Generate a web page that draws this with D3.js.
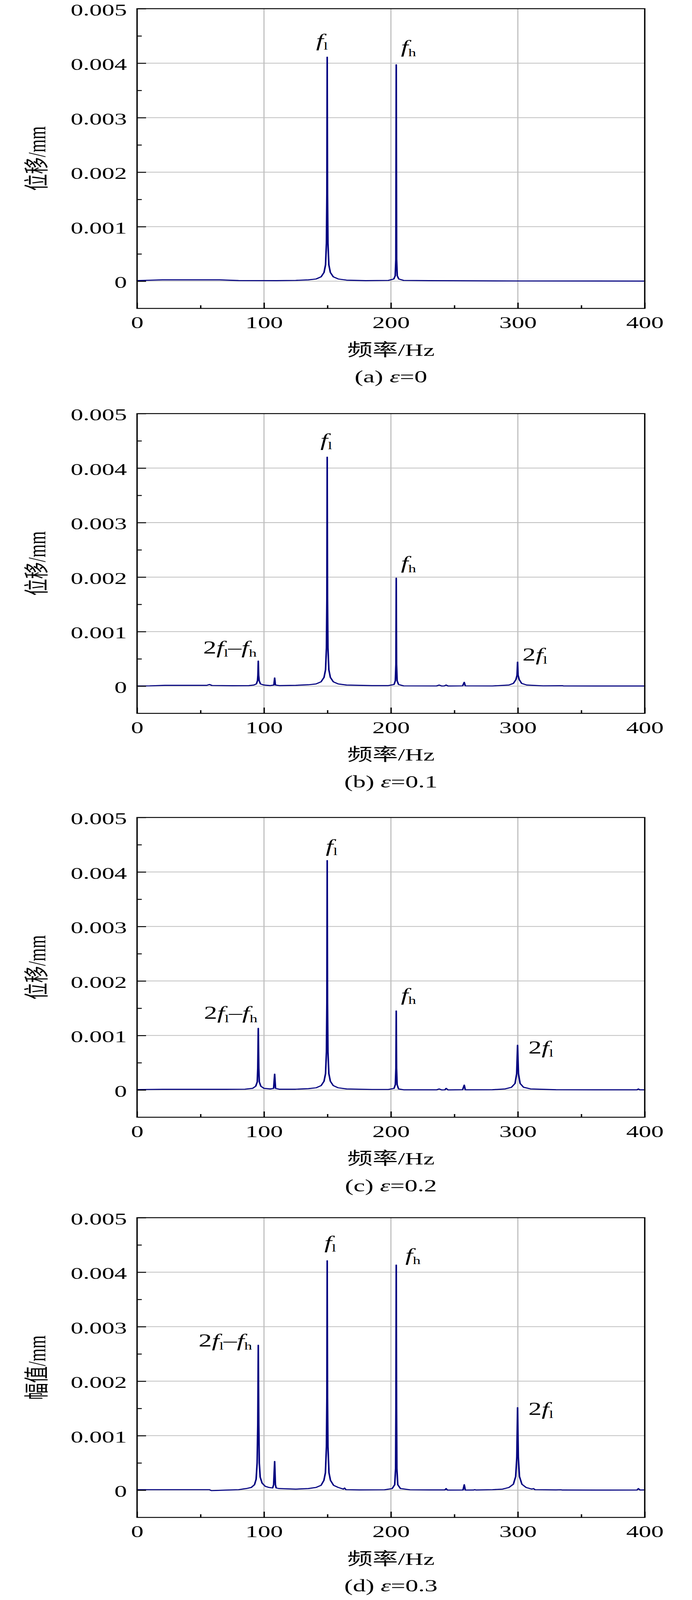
<!DOCTYPE html>
<html>
<head>
<meta charset="utf-8">
<script src="https://cdn.jsdelivr.net/npm/d3@7/dist/d3.min.js"></script>
<style>
  html, body { margin: 0; padding: 0; background: #ffffff; overflow: hidden; }
  svg { display: block; }
</style>
</head>
<body>
<script>
// ---------------- DATA ----------------
const xMajorTicks = [0, 100, 200, 300, 400];
const xMinorTicks = [50, 150, 250, 350];
const yMajorTicks = [0, 0.001, 0.002, 0.003, 0.004, 0.005];
const yTickLabels = ["0", "0.001", "0.002", "0.003", "0.004", "0.005"];
const yMinorTicks = [0.0005, 0.0015, 0.0025, 0.0035, 0.0045];
const xGridValues = [100, 200, 300];
const yGridValues = [0, 0.001, 0.002, 0.003, 0.004];

const panelNames = ["(a) ", "(b) ", "(c) ", "(d) "];
const epsValues = ["0", "0.1", "0.2", "0.3"];
const yAxisTitles = ["位移/mm", "位移/mm", "位移/mm", "幅值/mm"];
const xAxisTitle = "频率/Hz";

// spectra: [frequency Hz, amplitude mm]
const spectrumA = [
  [0,0.00001],[5,0.000015],[20,0.000025],[65,0.000025],[80,0.000012],[110,0.00001],
  [125,0.000015],[135,0.000025],[141,0.00004],[145,0.00008],[147.3,0.00016],[148.5,0.0003],
  [149.2,0.0007],[149.55,0.0016],[149.8,0.00411],[150.05,0.0016],[150.4,0.0007],[151.1,0.0003],
  [152.3,0.00016],[154.6,0.00008],[158.5,0.00004],[165,0.00002],[180,0.00001],[198,0.000015],
  [202.3,0.00004],[203.4,0.0001],[203.9,0.0004],[204.2,0.00397],[204.5,0.0004],[205.0,0.0001],
  [206.2,0.00004],[210,0.000015],[230,0.00001],[300,0.000004],[400,0.000002]
];
const spectrumB = [
  [0,0.000003],[10,0.000005],[22,0.000015],[55,0.000015],[57,0.00003],[59,0.000012],[75,0.000008],
  [88,0.00001],[92,0.00002],[94,0.00004],[94.9,0.0001],[95.2,0.0002],[95.5,0.00046],[95.8,0.0002],
  [96.2,0.0001],[97.2,0.00004],[100,0.00002],[105,0.00001],[107.8,0.00002],[108.4,0.00015],
  [109,0.00002],[112,0.00001],[125,0.000015],[135,0.000025],[141,0.00004],[145,0.00008],
  [147.3,0.00016],[148.5,0.0003],[149.2,0.0007],[149.55,0.0016],[149.8,0.0042],[150.05,0.0016],
  [150.4,0.0007],[151.1,0.0003],[152.3,0.00016],[154.6,0.00008],[158.5,0.00004],[165,0.00002],
  [185,0.00001],[198,0.00001],[202.5,0.00003],[203.5,0.0001],[203.95,0.0004],[204.2,0.00198],
  [204.45,0.0004],[204.9,0.0001],[206,0.00003],[210,0.000005],[236,0.000003],[238,0.00002],
  [240,0.000002],[242,0.000003],[243.5,0.00002],[245,0.000002],[256.5,0.000005],[257.8,0.00007],
  [258.6,0.000005],[280,0.000003],[293,0.00002],[296.5,0.00005],[298.5,0.00012],[299.4,0.0002],
  [299.8,0.00044],[300.2,0.0002],[301.1,0.00012],[303,0.00005],[307,0.00002],[320,0.000005],
  [335,0.000008],[336,0.000003],[400,0.000002]
];
const spectrumC = [
  [0,0.000008],[20,0.000012],[70,0.000012],[85,0.000015],[91,0.00003],[93.5,0.00007],[94.7,0.00015],
  [95.1,0.0004],[95.5,0.00113],[95.9,0.0004],[96.3,0.00015],[97.5,0.00007],[100,0.00003],[105,0.00002],
  [107.6,0.00003],[108.4,0.00029],[109.1,0.00003],[112,0.000015],[125,0.000015],[135,0.000025],
  [141,0.00004],[145,0.00008],[147.3,0.00016],[148.5,0.0003],[149.2,0.0007],[149.55,0.0016],
  [149.8,0.00421],[150.05,0.0016],[150.4,0.0007],[151.1,0.0003],[152.3,0.00016],[154.6,0.00008],
  [158.5,0.00004],[165,0.00002],[185,0.00001],[198,0.00001],[202.5,0.00003],[203.5,0.0001],
  [203.95,0.0004],[204.2,0.00145],[204.45,0.0004],[204.9,0.0001],[206,0.00002],[210,0.000004],
  [236,0.000003],[238,0.00002],[240,0.000002],[242.5,0.000003],[243.5,0.00003],[245,0.000002],
  [256.5,0.000005],[257.8,0.00009],[258.6,0.000003],[280,0.000005],[290,0.00002],[295,0.00005],
  [297.8,0.00012],[299.1,0.0003],[299.8,0.00082],[300.5,0.0003],[301.8,0.00012],[304.5,0.00005],
  [310,0.00002],[330,0.000005],[370,0.000004],[394,0.000004],[395,0.00002],[396,0.000003],[400,0.000003]
];
const spectrumD = [
  [0,0.00001],[30,0.00001],[57,0.00001],[58.5,-0.000008],[62,-0.000005],[70,0.000002],[80,0.00001],
  [86,0.00003],[90,0.00005],[92.5,0.0001],[93.8,0.0002],[94.6,0.0005],[95.1,0.0012],[95.5,0.00266],
  [95.9,0.0012],[96.3,0.0005],[97,0.00024],[98.5,0.00013],[101,0.00007],[104,0.00005],[106.8,0.00004],
  [107.6,0.0001],[108.4,0.000527],[109.0,0.0001],[109.6,0.00004],[112,0.00003],[125,0.00002],
  [135,0.00003],[141,0.00005],[145,0.00009],[147.2,0.00018],[148.4,0.00032],[149.2,0.0008],
  [149.55,0.0017],[149.8,0.00421],[150.05,0.0017],[150.4,0.0008],[151.2,0.00032],[152.4,0.00018],
  [154.8,0.00009],[158.5,0.00005],[162.5,0.00002],[163.5,0.00004],[164.5,0.00001],[175,0.000005],
  [195,0.000008],[201,0.00003],[203,0.0001],[203.7,0.0004],[203.95,0.0015],[204.2,0.00413],
  [204.45,0.0015],[204.7,0.0004],[205.4,0.0001],[207.5,0.00003],[215,0.000008],[230,0.000005],
  [242.5,0.000005],[243.5,0.00003],[244.5,0.000002],[256.8,0.000003],[257.8,0.0001],[258.6,0.000002],
  [265,0.000003],[266,0.00001],[267,0.000004],[280,0.00001],[288,0.00002],[293,0.00005],
  [296.5,0.00011],[298.3,0.00025],[299.2,0.0006],[299.8,0.001515],[300.4,0.0006],[301.3,0.00025],
  [303.2,0.00011],[306.5,0.00005],[311,0.00002],[312.3,0.00003],[313.5,0.00001],[330,0.000005],
  [334,0.000008],[335,0.000003],[370,0.000002],[394,0.000004],[395,0.00003],[396.2,0.000004],[400,0.000005]
];
const spectra = [spectrumA, spectrumB, spectrumC, spectrumD];

// peak labels: [label type, frequency (Hz) of text start, amplitude of baseline]
const labelsA = [["fl",141.1,0.004305],["fh",207.9,0.004188]];
const labelsB = [["fl",144.5,0.004403],["fh",207.9,0.00215],["2fl-fh",52.1,0.000596],["2fl",303.6,0.000471]];
const labelsC = [["fl",148.7,0.00437],["fh",207.9,0.001638],["2fl-fh",52.7,0.001304],["2fl",308.3,0.00067]];
const labelsD = [["fl",147.6,0.004435],["fh",211.4,0.004204],["2fl-fh",48.5,0.002636],["2fl",308.3,0.00138]];
const peakLabels = [labelsA, labelsB, labelsC, labelsD];

// ---------------- LAYOUT ----------------
const W = 1772, H = 6085;
const panelTops = [33, 1573, 3109, 4631];
const plotLeft = 351, plotW = 1300, plotH = 1140;
const serif = "'Liberation Serif', 'Times New Roman', Times, 'Noto Sans CJK SC', serif";
const lineColor = "#000080";
const gridColor = "#c0c0c0";

const x = d3.scaleLinear().domain([0, 400]).range([0, plotW]);
const y = d3.scaleLinear().domain([-0.0005, 0.005]).range([plotH, 0]);

const labelParts = {
  "fl": [["f","i"],["l","s"]],
  "fh": [["f","i"],["h","s"]],
  "2fl-fh": [["2","n"],["f","i"],["l","s"],["\u2013","n"],["f","i"],["h","s"]],
  "2fl": [["2","n"],["f","i"],["l","s"]]
};

// fit the whole figure into the visible window (identical at 1772x6085)
const vw = Math.min(window.innerWidth || W, W);
const vh = Math.min(window.innerHeight || H, H);

const svg = d3.select("body").append("svg")
  .attr("width", vw).attr("height", vh)
  .attr("viewBox", `0 0 ${W} ${H}`)
  .attr("preserveAspectRatio", "none");
svg.append("rect").attr("width", W).attr("height", H).attr("fill", "#fff");

panelTops.forEach((top, i) => {
  const g = svg.append("g").attr("transform", `translate(${plotLeft},${top})`);

  // grid
  g.selectAll(".vg").data(xGridValues).join("line")
    .attr("x1", d => x(d)).attr("x2", d => x(d))
    .attr("y1", 0).attr("y2", plotH)
    .attr("stroke", gridColor).attr("stroke-width", 3);
  g.selectAll(".hg").data(yGridValues).join("line")
    .attr("x1", 0).attr("x2", plotW)
    .attr("y1", d => y(d)).attr("y2", d => y(d))
    .attr("stroke", gridColor).attr("stroke-width", 3);

  // spectrum line
  const line = d3.line().x(d => x(d[0])).y(d => y(d[1]));
  g.append("path").datum(spectra[i])
    .attr("d", line)
    .attr("fill", "none")
    .attr("stroke", lineColor)
    .attr("stroke-width", 4)
    .attr("stroke-linejoin", "round")
    .attr("stroke-linecap", "round");

  // axes
  const styleAxis = sel => {
    sel.select(".domain").remove();
    sel.selectAll(".tick line").attr("stroke", "#000").attr("stroke-width", 3.5);
    sel.selectAll(".tick text").attr("font-family", serif).attr("font-size", 64).attr("fill", "#000");
  };
  g.append("g").attr("transform", `translate(0,${plotH})`)
    .call(d3.axisBottom(x).tickValues(xMajorTicks).tickSize(-22).tickPadding(30).tickFormat(d => String(d)))
    .call(styleAxis);
  g.append("g").attr("transform", `translate(0,${plotH})`)
    .call(d3.axisBottom(x).tickValues(xMinorTicks).tickSize(-12).tickFormat(() => ""))
    .call(styleAxis);
  g.append("g")
    .call(d3.axisLeft(y).tickValues(yMajorTicks).tickSize(-23).tickPadding(26)
      .tickFormat((d, k) => yTickLabels[k]))
    .call(styleAxis)
    .call(s => s.selectAll(".tick text").attr("dy", "0.40em"));
  g.append("g")
    .call(d3.axisLeft(y).tickValues(yMinorTicks).tickSize(-12).tickFormat(() => ""))
    .call(styleAxis);

  // frame
  g.append("rect").attr("x", 0).attr("y", 0).attr("width", plotW).attr("height", plotH)
    .attr("fill", "none").attr("stroke", "#000").attr("stroke-width", 3.5);

  // peak labels
  peakLabels[i].forEach(([type, fx, fy]) => {
    const t = g.append("text")
      .attr("x", x(fx)).attr("y", y(fy))
      .attr("font-family", serif).attr("font-size", 68).attr("fill", "#000");
    let shifted = false;
    labelParts[type].forEach(([txt, kind]) => {
      const ts = t.append("tspan").text(txt);
      if (kind === "i") ts.attr("font-style", "italic");
      if (kind === "s") {
        ts.attr("font-size", 40);
        if (!shifted) { ts.attr("dy", 12); shifted = true; }
      } else if (shifted) {
        ts.attr("dy", -12); shifted = false;
      }
    });
  });

  // y axis title
  g.append("text")
    .attr("transform", `translate(${116 - plotLeft},${plotH / 2}) rotate(-90)`)
    .attr("text-anchor", "middle")
    .attr("font-family", serif).attr("font-size", 64).attr("fill", "#000")
    .text(yAxisTitles[i]);

  // x axis title
  g.append("text")
    .attr("x", plotW / 2).attr("y", 1320)
    .attr("text-anchor", "middle")
    .attr("font-family", serif).attr("font-size", 65).attr("fill", "#000")
    .text(xAxisTitle);

  // caption
  const cap = g.append("text")
    .attr("x", plotW / 2).attr("y", 1422)
    .attr("text-anchor", "middle")
    .attr("font-family", serif).attr("font-size", 66).attr("fill", "#000");
  cap.append("tspan").text(panelNames[i]);
  cap.append("tspan").attr("font-style", "italic").text("\u03b5");
  cap.append("tspan").text("=" + epsValues[i]);
});
</script>
</body>
</html>
